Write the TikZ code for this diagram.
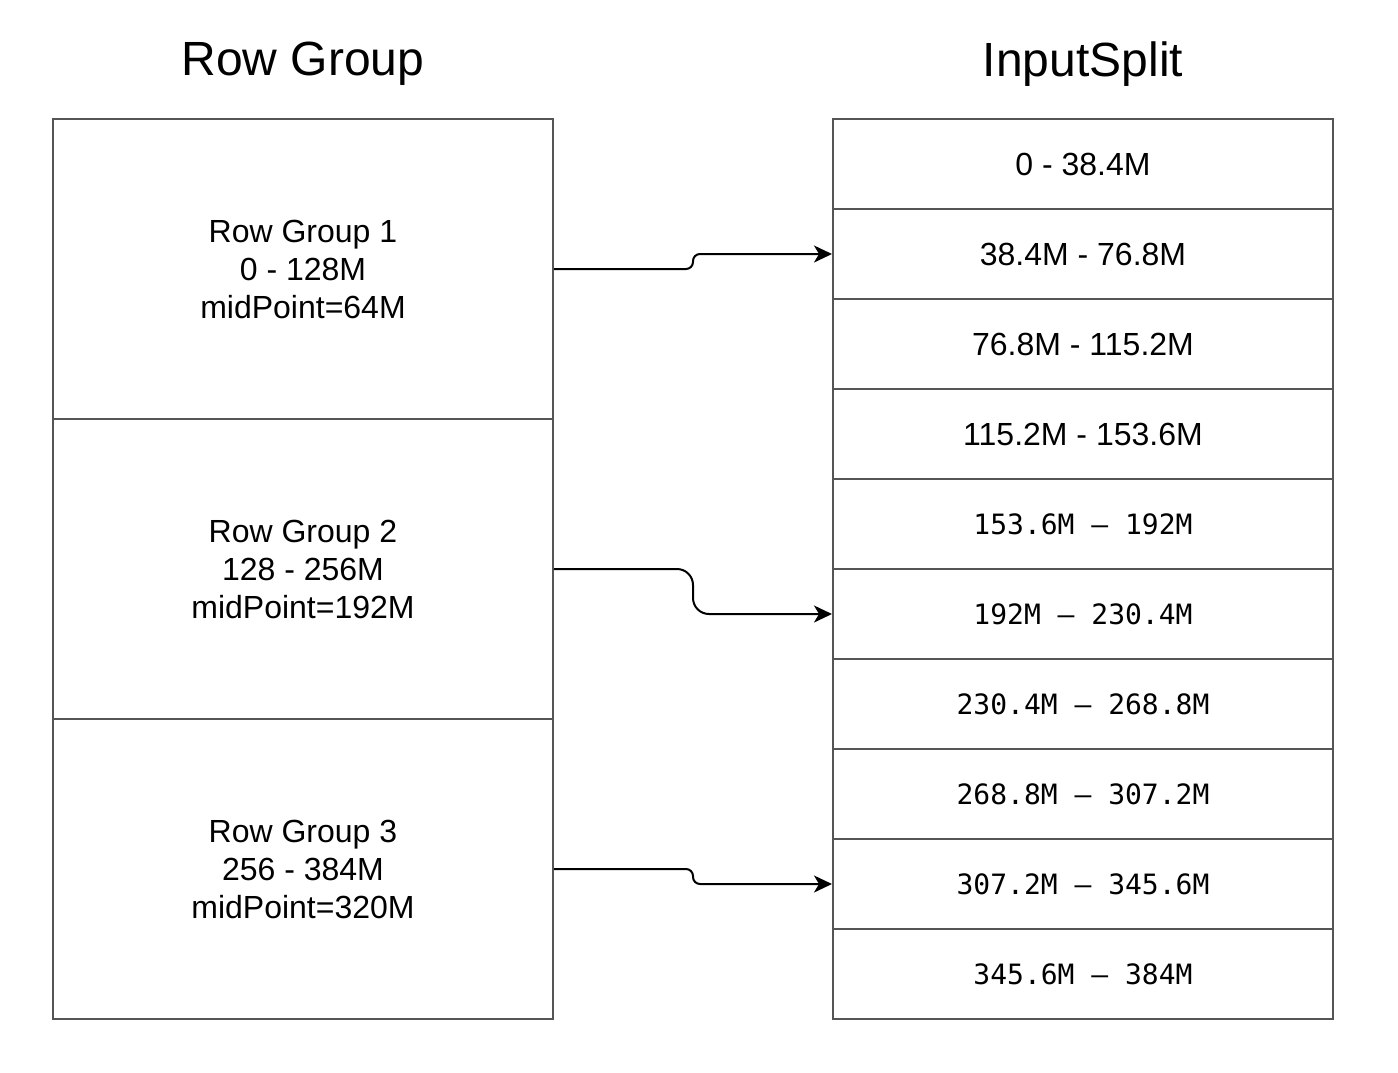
\documentclass[tikz,border=0pt]{standalone}
\usepackage{fontspec}
\setmainfont{Liberation Sans}
\newfontfamily\splitmono{DejaVu Sans Mono}
\usetikzlibrary{arrows.meta}
\definecolor{boxgray}{HTML}{555555}

\tikzset{
  grp/.style={draw=boxgray, line width=2pt, minimum width=500pt, minimum height=300pt,
    align=center, font=\fontsize{32}{38}\selectfont},
  split/.style={draw=boxgray, line width=2pt, minimum width=500pt, minimum height=90pt,
    font=\fontsize{32}{38}\selectfont},
  title/.style={font=\fontsize{48}{56}\selectfont},
  link/.style={line width=2pt, -{Stealth[length=18pt,width=17pt,inset=5pt]}, rounded corners=7pt},
}

\begin{document}
\begin{tikzpicture}[x=1pt,y=-1pt]
  \fill[white] (0,0) rectangle (1398,1072);
  \useasboundingbox (0,0) rectangle (1398,1072);

  \node[title] (grptitle) at (303,64) {Row Group};
  \node[title] (splittitle) at (1083,64) {InputSplit};

  \node[grp] (rg1) at (303,269) {Row Group 1\\0 - 128M\\midPoint=64M};
  \node[grp] (rg2) at (303,569) {Row Group 2\\128 - 256M\\midPoint=192M};
  \node[grp] (rg3) at (303,869) {Row Group 3\\256 - 384M\\midPoint=320M};

  \foreach \i/\lbl in {1/{0 - 38.4M},2/{38.4M - 76.8M},3/{76.8M - 115.2M},
      4/{115.2M - 153.6M},5/{153.6M – 192M},6/{192M – 230.4M},
      7/{230.4M – 268.8M},8/{268.8M – 307.2M},9/{307.2M – 345.6M},
      10/{345.6M – 384M}} {
    \node[split] (is\i) at (1083,{74+90*\i}) {\ifnum\i>4 \fontsize{28}{34}\splitmono\fi\lbl};
  }

  \coordinate (jog) at (693,0);
  \draw[link] (rg1.east) -- (rg1.east -| jog) -- (jog |- is2.west) -- (is2.west);
  \draw[link, rounded corners=16pt] (rg2.east) -- (rg2.east -| jog) -- (jog |- is6.west) -- (is6.west);
  \draw[link] (rg3.east) -- (rg3.east -| jog) -- (jog |- is9.west) -- (is9.west);
\end{tikzpicture}
\end{document}
